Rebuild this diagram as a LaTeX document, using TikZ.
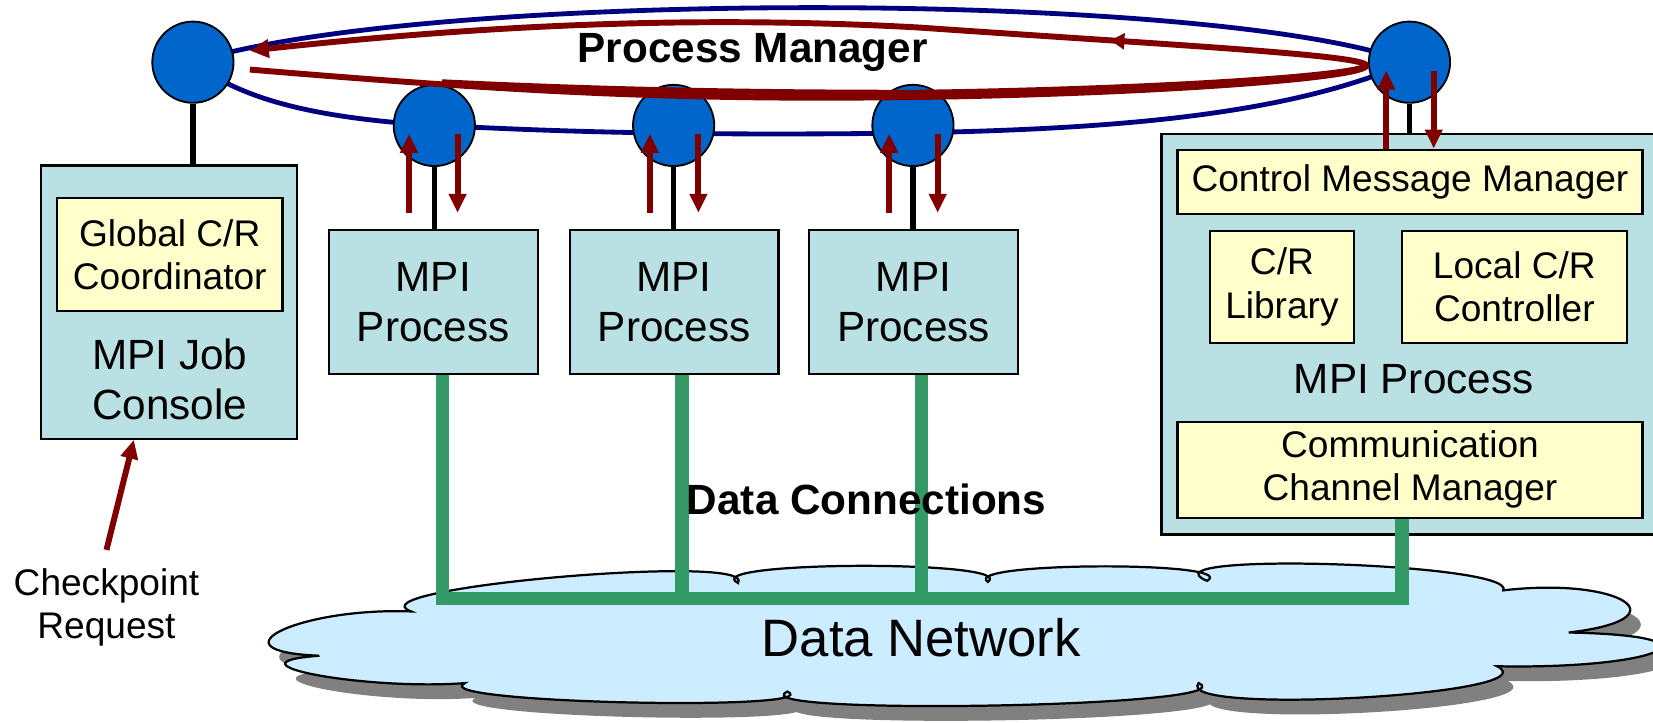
\documentclass[tikz,border=0pt]{standalone}
\usepackage{fontspec}
\setmainfont{Liberation Sans}
\usetikzlibrary{arrows.meta,backgrounds,decorations.markings}
\definecolor{boxteal}{RGB}{185,224,227}
\definecolor{boxyellow}{RGB}{255,255,204}
\definecolor{nodeblue}{RGB}{0,102,204}
\definecolor{ringblue}{RGB}{0,0,128}
\definecolor{ctrlred}{RGB}{128,0,0}
\definecolor{datagreen}{RGB}{51,153,102}
\definecolor{cloudblue}{RGB}{204,236,255}
\definecolor{shadowgray}{RGB}{128,128,128}
\newcommand{\bigtxt}{\fontsize{11.4}{13.4}\selectfont}
\newcommand{\smalltxt}{\fontsize{10}{11.7}\selectfont}
\newcommand{\nettxt}{\fontsize{14.2}{16}\selectfont}
% outline of the data network cloud
\newcommand{\netcloud}{(303,622) .. controls (197,618) and (284,576) .. (390,580)
  .. controls (330,558) and (720,524) .. (700,553)
  .. controls (660,532) and (967,531) .. (937,552)
  .. controls (910,533) and (1178,532) .. (1145,551)
  .. controls (1078,523) and (1439,534) .. (1426,560)
  .. controls (1537,547) and (1599,587) .. (1488,600)
  .. controls (1643,603) and (1575,635) .. (1420,632)
  .. controls (1475,659) and (1112,679) .. (1137,648)
  .. controls (1187,671) and (697,679) .. (747,656)
  .. controls (787,675) and (401,667) .. (441,648)
  .. controls (345,655) and (207,629) .. cycle}

\begin{document}
\begin{tikzpicture}[x=0.01cm,y=-0.01cm,
  outerbox/.style={draw, fill=boxteal, line width=0.6pt, inner sep=0pt, align=center, font=\bigtxt},
  innerbox/.style={draw, fill=boxyellow, line width=0.6pt, inner sep=0pt, align=center, font=\smalltxt},
  pmnode/.style={circle, draw, fill=nodeblue, minimum size=0.77cm, inner sep=0pt, line width=0.5pt},
  ring/.style={draw=ringblue, line width=1.3pt},
  stem/.style={line width=1.4pt},
  ctrl/.style={draw=ctrlred, line width=1.6pt, -{Triangle[length=0.18cm,width=0.16cm]}},
  loopline/.style={draw=ctrlred, line width=1.6pt},
  dataline/.style={draw=datagreen, line width=3.6pt},
  heading/.style={font=\bfseries\bigtxt, anchor=base}]

\useasboundingbox (0,0) rectangle (1568,685);

% data network
\fill[shadowgray, xshift=0.1cm, yshift=-0.14cm] \netcloud;
\draw[fill=cloudblue, line width=0.6pt] \netcloud;
\node[font=\nettxt] (netlabel) at (874,605) {Data Network};

% job console
\node[outerbox, minimum width=2.43cm, minimum height=2.59cm] (console) at (160.5,286.5) {};
\node[innerbox, minimum width=2.14cm, minimum height=1.07cm] (gcr) at (161,241.5) {Global C/R\\Coordinator};
\node[font=\bigtxt, align=center] (consolelabel) at (161,360) {MPI Job\\Console};

% plain processes
\foreach \n/\x in {1/411, 2/639.5, 3/866.5}
  \node[outerbox, minimum width=1.98cm, minimum height=1.37cm] (p\n) at (\x,286.5) {MPI\\Process};

% checkpointed process
\node[outerbox, minimum width=5.58cm, minimum height=3.8cm] (proc) at (1381,317) {};
\node[innerbox, minimum width=4.41cm, minimum height=0.61cm] (cmm) at (1337.5,172.5) {Control Message Manager};
\node[innerbox, minimum width=1.36cm, minimum height=1.06cm] (crlib) at (1216,272) {C/R\\Library};
\node[innerbox, minimum width=2.13cm, minimum height=1.06cm] (lcr) at (1436.5,272) {Local C/R\\Controller};
\node[font=\bigtxt] (proclabel) at (1341,360) {MPI Process};
\node[innerbox, minimum width=4.41cm, minimum height=0.91cm] (ccm) at (1337.5,445.5) {Communication\\Channel Manager};

% data connections
\coordinate (g1) at (420,568);
\coordinate (g2) at (647,568);
\coordinate (g3) at (874,568);
\coordinate (gR) at (1330,568);
\draw[dataline] (p1.south -| g1) -- (g1) -- (gR) -- (ccm.south -| gR);
\draw[dataline] (p2.south -| g2) -- (g2);
\draw[dataline] (p3.south -| g3) -- (g3);
\node[heading] (dctitle) at (822,488) {Data Connections};

% process manager
\node[pmnode] (pmL) at (183,59) {};
\foreach \n/\x in {1/412, 2/639, 3/866}
  \node[pmnode] (pm\n) at (\x,119) {};
\node[pmnode] (pmR) at (1337,59) {};
\begin{scope}[on background layer]
\draw[ring] (pmL.center) .. controls (400,-10) and (1150,-10) .. (pmR.center)
  .. controls (1200,118) and (1000,128) .. (700,127)
  .. controls (550,126) and (480,122) .. (pm1.center)
  .. controls (300,112) and (230,95) .. cycle;
\end{scope}

\draw[stem] (pmL.south) -- (pmL.south |- console.north);
\foreach \n in {1,2,3}
  \draw[stem] (pm\n.south) -- (pm\n.south |- p\n.north);
\draw[stem] (pmR.south) -- (pmR.south |- proc.north);

% control messages
\foreach \n in {1,2,3} {
  \draw[ctrl] ([xshift=-0.23cm,yshift=0.15cm]p\n.north) -- ++(0,-75);
  \draw[ctrl] ([xshift=0.23cm,yshift=0.9cm]p\n.north) -- ++(0,75);
}
\coordinate (cmtop) at (cmm.north -| pmR);
\draw[ctrl] ([xshift=-0.22cm]cmtop) -- ++(0,-74);
\draw[ctrl] ([xshift=0.23cm,yshift=0.74cm]cmtop) -- ++(0,74);

\coordinate (loopS) at (237,66);
\coordinate (loopD) at (419,78);
\coordinate (loopT) at (1296,62);
\coordinate (loopE) at (237,48);
\draw[loopline, -{Triangle[length=0.18cm,width=0.17cm]}, postaction={decorate},
  decoration={markings, mark=at position 0.615 with {\arrow{Triangle[length=0.13cm,width=0.15cm]}}}]
  (loopS) .. controls (500,88) and (650,95) .. (870,92)
  .. controls (1090,89) and (1298,74) .. (loopT)
  .. controls (1294,52) and (1100,42) .. (870,26)
  .. controls (650,14) and (450,25) .. (loopE);
\draw[loopline] (loopD) .. controls (560,85) and (700,88) .. (870,88)
  .. controls (1090,85) and (1292,72) .. (loopT);
\node[heading] (pmtitle) at (714,59) {Process Manager};

% checkpoint request
\node[font=\smalltxt, align=center] (req) at (101,576) {Checkpoint\\Request};
\draw[ctrl] ([yshift=0.05cm]req.north) -- ([xshift=-0.335cm]console.south);

\end{tikzpicture}
\end{document}
